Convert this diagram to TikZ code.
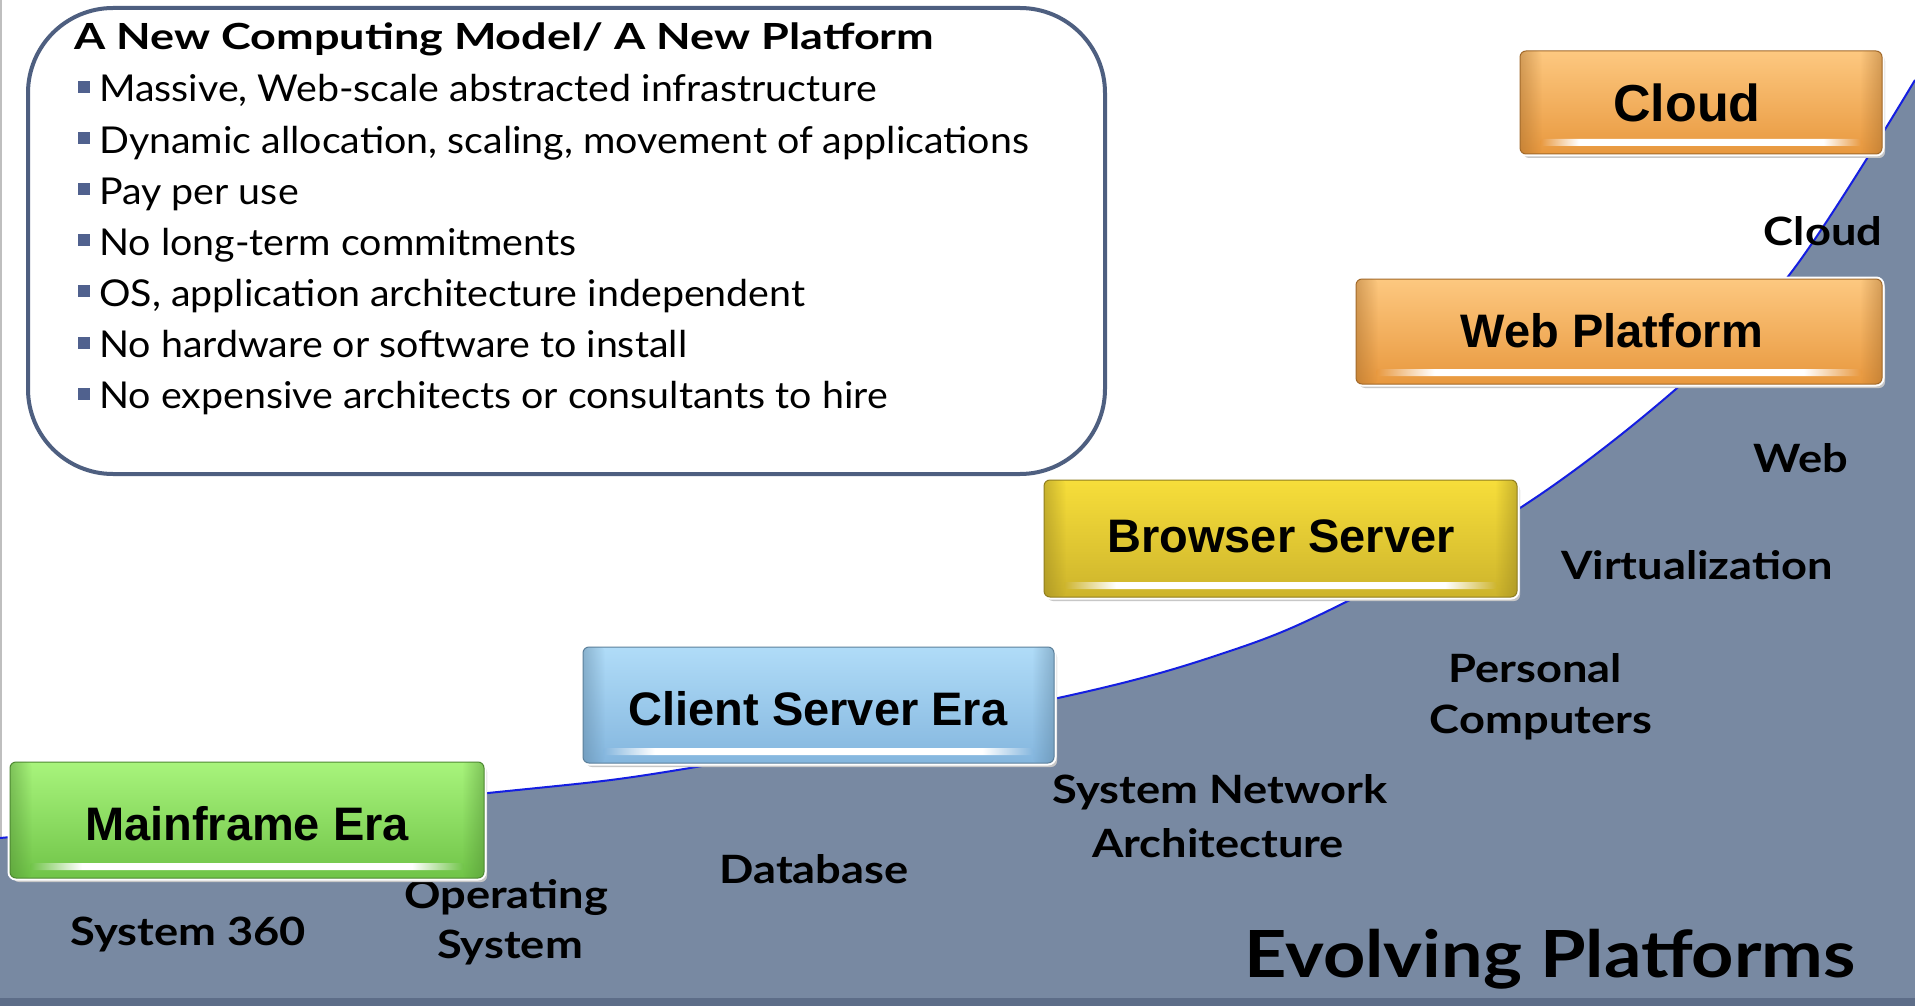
\documentclass[tikz,border=0pt]{standalone}
\usepackage{fontspec}
\usepackage{graphicx}
\usetikzlibrary{fadings}
\newfontfamily\gill{Lato}
\newfontfamily\arialf{Liberation Sans}
\newcommand{\sx}[2]{\scalebox{#1}[1]{#2}}
\definecolor{slatefill}{RGB}{120,137,162}
\definecolor{slatedark}{RGB}{93,109,136}
\definecolor{curveblue}{RGB}{20,30,225}
\definecolor{frameblue}{RGB}{78,95,128}
\definecolor{bulletblue}{RGB}{80,97,142}
\definecolor{gtop}{RGB}{168,244,124}
\definecolor{gbot}{RGB}{112,196,72}
\definecolor{btop}{RGB}{176,220,248}
\definecolor{bbot}{RGB}{132,182,222}
\definecolor{ytop}{RGB}{247,222,58}
\definecolor{ybot}{RGB}{205,180,44}
\definecolor{otop}{RGB}{253,200,128}
\definecolor{obot}{RGB}{232,152,62}
\colorlet{glossedge}{gbot}
\pgfdeclarehorizontalshading[glossedge]{gloss}{100bp}{color(0bp)=(glossedge); color(25bp)=(glossedge); color(31bp)=(white); color(69bp)=(white); color(75bp)=(glossedge); color(100bp)=(glossedge)}
\tikzfading[name=edgeL, left color=transparent!0, right color=transparent!100]
\tikzfading[name=edgeR, left color=transparent!100, right color=transparent!0]
\tikzset{
  bullettext/.style={anchor=base west, inner sep=0pt, font=\gill\fontsize{37}{40}\selectfont},
  titletext/.style={anchor=base west, inner sep=0pt, font=\gill\bfseries\fontsize{36}{40}\selectfont},
  eralabel/.style={anchor=base, inner sep=0pt, font=\gill\bfseries\fontsize{39}{44}\selectfont},
  boxlabel/.style={anchor=base, inner sep=0pt, font=\arialf\bfseries\fontsize{47}{50}\selectfont},
  bulletsq/.style={fill=bulletblue},
}
\newcommand{\gbox}[6]{%
  \fill[black!22, rounded corners=6] (#1+3,#2+4) rectangle (#3+3,#4+4);
  \draw[white, line width=5, rounded corners=6] (#1,#2) rectangle (#3,#4);
  \shade[top color=#5, bottom color=#6, rounded corners=6] (#1,#2) rectangle (#3,#4);
  \fill[#6!70!black, opacity=0.45, path fading=edgeL, rounded corners=6] (#1,#2) rectangle (#1+22,#4);
  \fill[#6!70!black, opacity=0.45, path fading=edgeR, rounded corners=6] (#3-22,#2) rectangle (#3,#4);
  \colorlet{glossedge}{#6}
  \shade[shading=gloss, rounded corners=3] (#1+20,#4-15) rectangle (#3-20,#4-8);
  \draw[#6!70!black, line width=1, rounded corners=6] (#1,#2) rectangle (#3,#4);
}
\begin{document}
\begin{tikzpicture}[x=1pt,y=-1pt]
\useasboundingbox (0,0) rectangle (1915,1006);
\fill[white] (0,0) rectangle (1915,1006);
% left edge line
\draw[black!25, line width=2] (1,0) -- (1,840);
% gray area under the growth curve
\fill[slatefill] plot[smooth, tension=0.6] coordinates {(0,838) (488,793) (702,766) (1058,698) (1233,650) (1350,600) (1520,508) (1676,389) (1790,274) (1915,80)} -- (1915,1006) -- (0,1006) -- cycle;
\fill[slatedark] (0,998) rectangle (1915,1006);
\draw[curveblue, line width=2] plot[smooth, tension=0.6] coordinates {(0,838) (488,793) (702,766) (1058,698) (1233,650) (1350,600) (1520,508) (1676,389) (1790,274) (1915,80)};

% text panel
\draw[frameblue, line width=4, fill=white, rounded corners=85] (28,8) rectangle (1105,474);
\node[titletext] (title) at (74,50) {\sx{1.25}{A New Computing Model/ A New Platform}};
\foreach \i/\t in {0/{Massive, Web-scale abstracted infrastructure},
                   1/{Dynamic allocation, scaling, movement of applications},
                   2/{Pay per use},
                   3/{No long-term commitments},
                   4/{OS, application architecture independent},
                   5/{No hardware or software to install},
                   6/{No expensive architects or consultants to hire}}{
  \pgfmathsetmacro\yb{102+51.1*\i}
  \fill[bulletsq] (78,\yb-21) rectangle (90,\yb-9);
  \node[bullettext] (b\i) at (99,\yb) {\sx{1.064}{\t}};
}

% labels on the gray area
\node[eralabel] (lcloud) at (1823,245) {\sx{1.16}{Cloud}};
\node[eralabel] (lweb) at (1801,472) {\sx{1.16}{Web}};
\node[eralabel] (lvirt) at (1697,579) {\sx{1.16}{Virtualization}};
\node[eralabel] (lpers) at (1535,682) {\sx{1.16}{Personal}};
\node[eralabel] (lcomp) at (1541,733) {\sx{1.16}{Computers}};
\node[eralabel] (lsna1) at (1220,803) {\sx{1.16}{System Network}};
\node[eralabel] (lsna2) at (1218,857) {\sx{1.16}{Architecture}};
\node[eralabel] (ldb) at (814,883) {\sx{1.16}{Database}};
\node[eralabel] (los1) at (506,908) {\sx{1.16}{Operating}};
\node[eralabel] (los2) at (510,958) {\sx{1.16}{System}};
\node[eralabel] (l360) at (188,945) {\sx{1.16}{System 360}};
\node[anchor=base, inner sep=0pt, font=\gill\bfseries\fontsize{65}{70}\selectfont] (evolve) at (1550,977) {\sx{1.135}{Evolving Platforms}};

% era boxes
\gbox{10}{762}{484}{878}{gtop}{gbot}
\node[boxlabel] (mainframe) at (247,840) {Mainframe Era};
\gbox{583}{647}{1054}{763}{btop}{bbot}
\node[boxlabel] (client) at (818,725) {Client Server Era};
\gbox{1044}{480}{1517}{597}{ytop}{ybot}
\node[boxlabel] (browser) at (1281,552) {Browser Server};
\gbox{1356}{279}{1882}{384}{otop}{obot}
\node[boxlabel] (webplat) at (1612,347) {Web Platform};
\gbox{1520}{51}{1882}{154}{otop}{obot}
\node[boxlabel, font=\arialf\bfseries\fontsize{52}{56}\selectfont] (cloud) at (1687,122) {Cloud};
\end{tikzpicture}
\end{document}
